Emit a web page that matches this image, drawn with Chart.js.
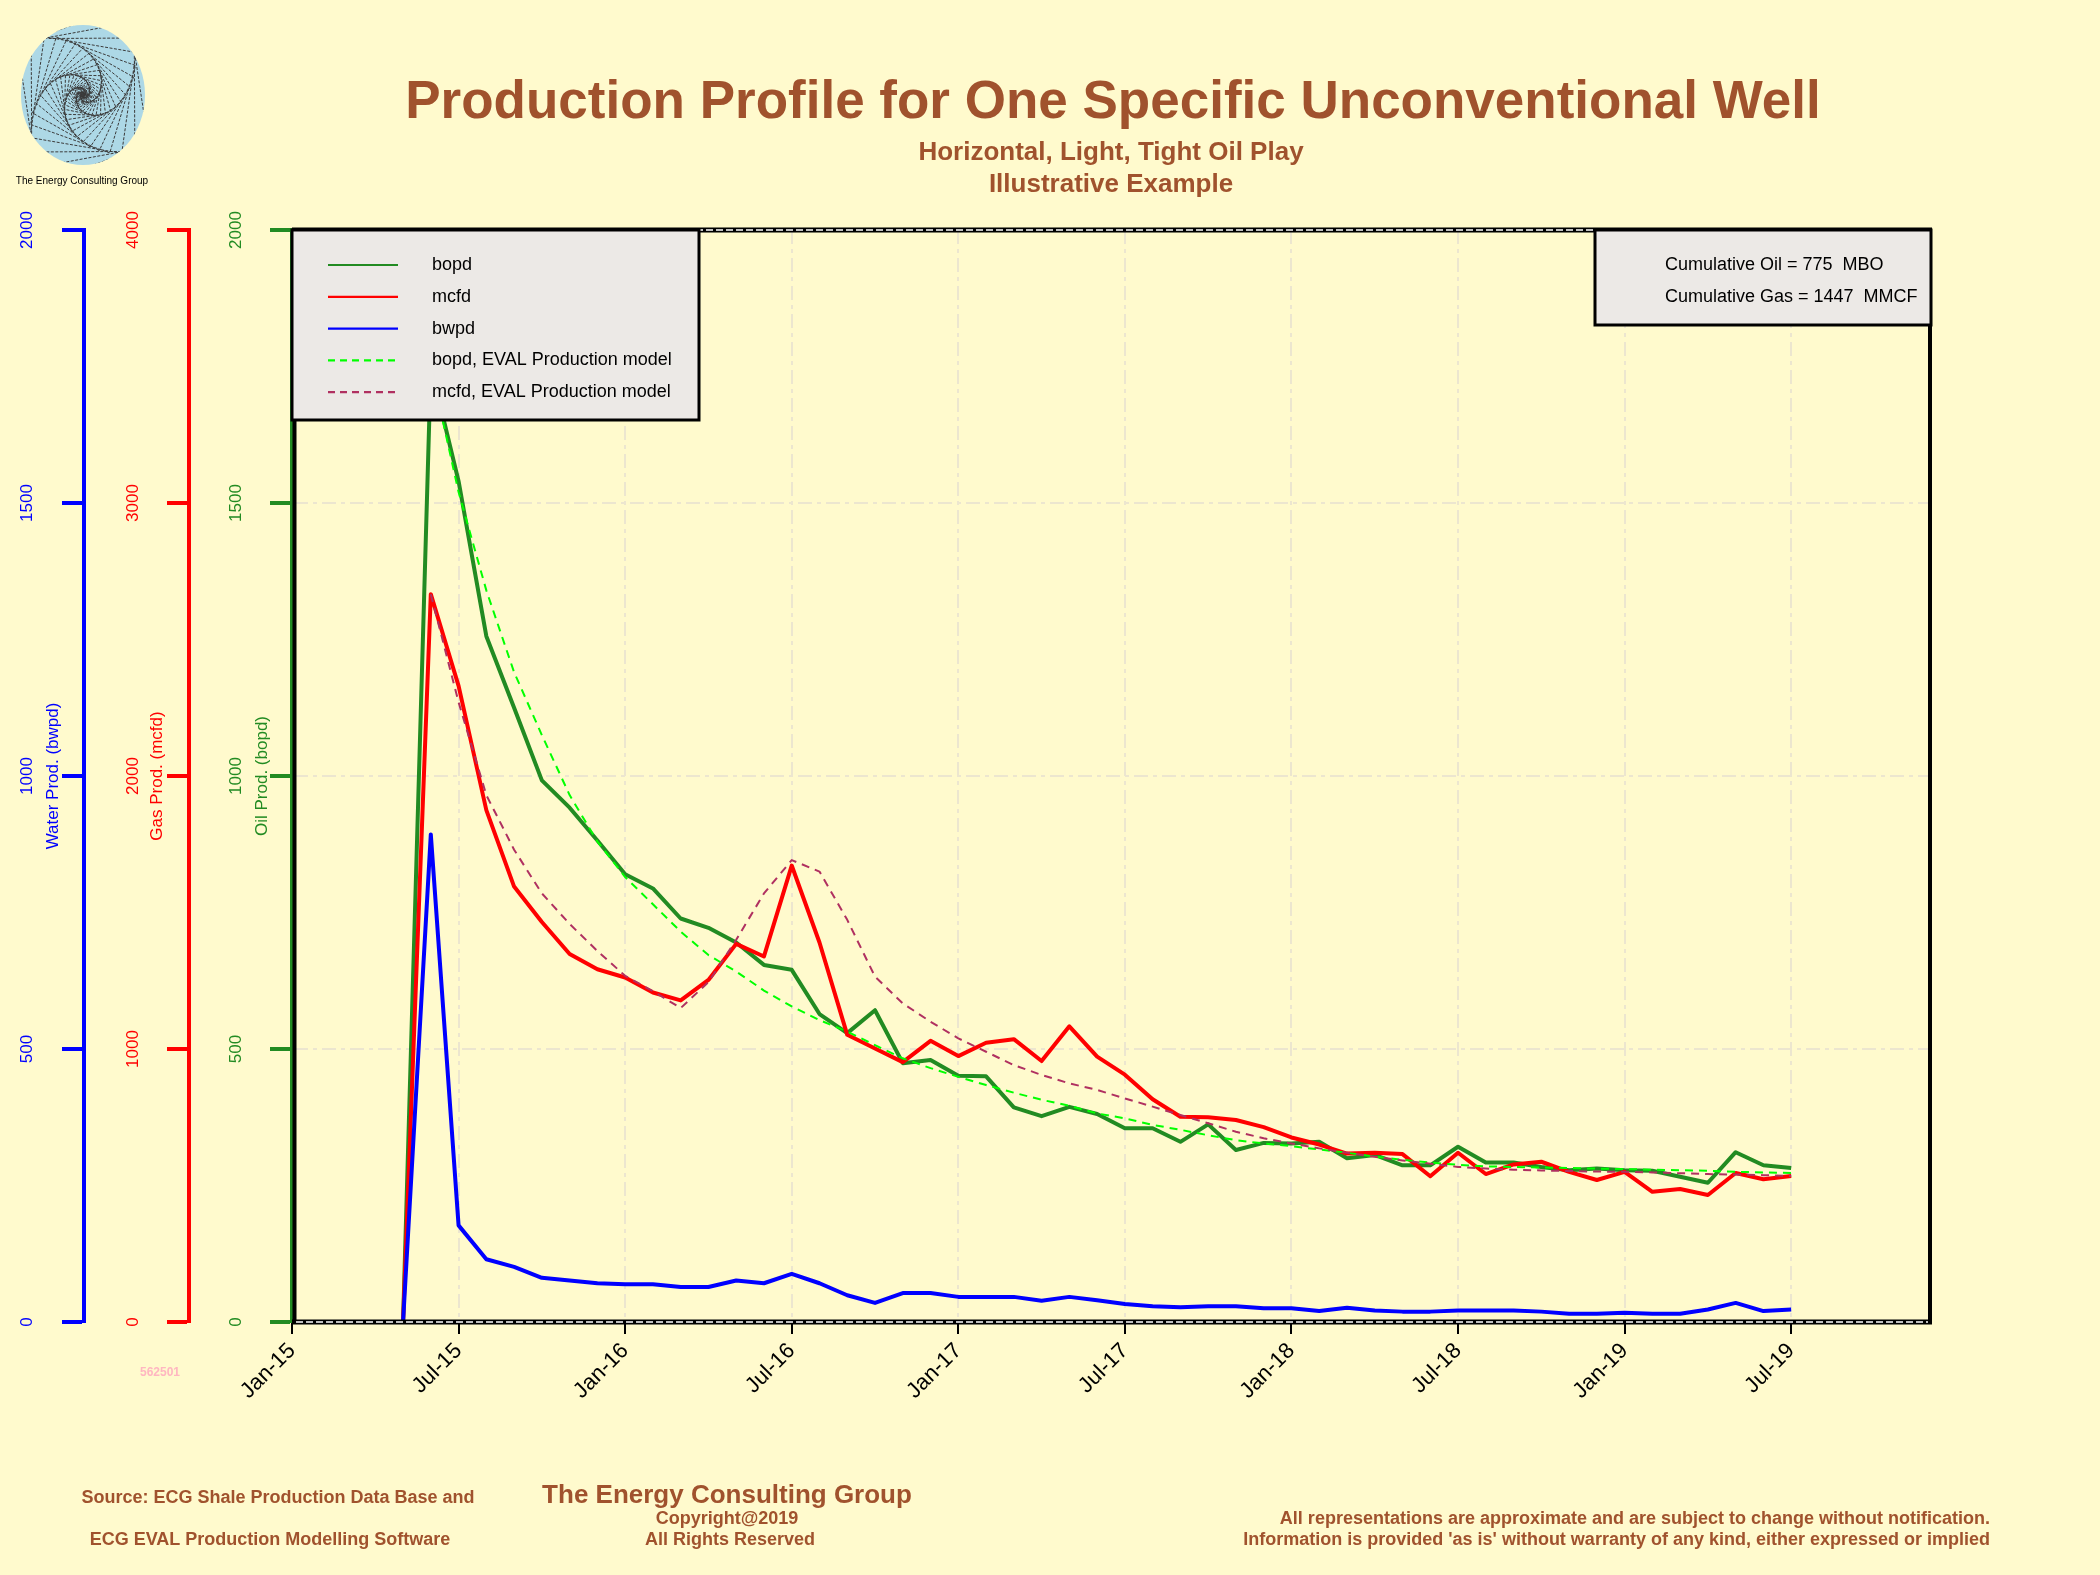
<!DOCTYPE html>
<html>
<head>
<meta charset="utf-8">
<title>Production Profile for One Specific Unconventional Well</title>
<script src="https://cdn.jsdelivr.net/npm/chart.js@4.4.1/dist/chart.umd.min.js"></script>
<style>
  html, body { margin: 0; padding: 0; background: #FFFACD; }
  canvas { display: block; }
</style>
</head>
<body>
<canvas id="wellChart" width="2100" height="1575"></canvas>
<script>
/* ================= DATA ================= */

// month index, 0 = Jan-15
const months = [4, 5, 6, 7, 8, 9, 10, 11, 12, 13, 14, 15, 16, 17, 18, 19, 20, 21, 22, 23, 24,
    25, 26, 27, 28, 29, 30, 31, 32, 33, 34, 35, 36, 37, 38, 39, 40, 41, 42, 43, 44, 45, 46,
    47, 48, 49, 50, 51, 52, 53, 54];

const bopd = [0, 1750, 1540, 1256, 1125, 992, 942, 882, 820, 794, 739, 722, 695, 654, 645, 564,
    529, 571, 474, 480, 451, 450, 393, 377, 394, 381, 355, 355, 330, 362, 315, 328, 327, 330,
    300, 306, 287, 287, 321, 292, 292, 284, 278, 281, 278, 277, 266, 255, 311, 287, 282];

const mcfd = [0, 2666, 2330, 1875, 1595, 1465, 1348, 1292, 1262, 1207, 1178, 1253, 1385, 1339,
    1672, 1390, 1052, 1002, 952, 1030, 974, 1023, 1036, 956, 1083, 972, 906, 816, 752, 750, 740,
    714, 676, 650, 617, 620, 615, 534, 620, 542, 577, 587, 550, 520, 550, 477, 487, 465, 546,
    523, 535];

const bwpd = [0, 893, 177, 115, 101, 81, 76, 71, 69, 69, 64, 64, 76, 71, 88, 71, 49, 35, 53, 53,
    46, 46, 46, 39, 46, 40, 33, 29, 27, 29, 29, 25, 25, 20, 26, 21, 19, 19, 21, 21, 21, 19, 15,
    15, 17, 15, 15, 23, 35, 20, 23];

const modelMonths = [5, 6, 7, 8, 9, 10, 11, 12, 13, 14, 15, 16, 17, 18, 19, 20, 21, 22, 23, 24,
    25, 26, 27, 28, 29, 30, 31, 32, 33, 34, 35, 36, 37, 38, 39, 40, 41, 42, 43, 44, 45, 46, 47,
    48, 49, 50, 51, 52, 53, 54];

const bopdModel = [1750, 1520, 1340, 1190, 1075, 965, 880, 815, 765, 715, 672, 642, 607, 578,
    553, 532, 507, 483, 465, 449, 434, 420, 407, 396, 382, 373, 361, 352, 342, 333, 327, 322,
    316, 310, 303, 297, 292, 288, 285, 284, 283, 282, 281, 280, 279, 278, 277, 275, 274, 273];

const mcfdModel = [2666, 2270, 1930, 1730, 1570, 1458, 1359, 1268, 1212, 1150, 1245, 1400, 1570,
    1692, 1650, 1473, 1265, 1167, 1100, 1039, 990, 941, 905, 874, 850, 819, 789, 758, 728, 697,
    673, 654, 636, 620, 605, 592, 580, 568, 562, 558, 555, 553, 551, 550, 548, 545, 542, 540,
    538, 535];

const xTickLabels = ["Jan-15", "Jul-15", "Jan-16", "Jul-16", "Jan-17", "Jul-17",
    "Jan-18", "Jul-18", "Jan-19", "Jul-19"];

const cumulativeText = ["Cumulative Oil = 775  MBO", "Cumulative Gas = 1447  MMCF"];

/* ================= STYLE ================= */

const FONT = '"Liberation Sans", Arial, Helvetica, sans-serif';
const BG = "#FFFACD";
const BROWN = "#A0522D";
const GRID = "#ECE6CF";
const OIL = "#228B22";
const GAS = "#FF0000";
const WATER = "#0000FF";
const OIL_MODEL = "#00FF00";
const GAS_MODEL = "#B03060";

const toPoints = (xs, ys) => ys.map((v, i) => ({ x: xs[i], y: v }));

/* ================= DRAW HELPERS ================= */

function text(ctx, str, x, y, font, color, align) {
    ctx.font = font;
    ctx.fillStyle = color;
    ctx.textAlign = align || "center";
    ctx.textBaseline = "middle";
    ctx.fillText(str, x, y);
}

function vText(ctx, str, x, y, font, color) {
    ctx.save();
    ctx.translate(x, y);
    ctx.rotate(-Math.PI / 2);
    text(ctx, str, 0, 0, font, color);
    ctx.restore();
}

function hLine(ctx, x1, x2, y, color, width, dash) {
    ctx.save();
    ctx.strokeStyle = color;
    ctx.lineWidth = width;
    ctx.setLineDash(dash || []);
    ctx.beginPath();
    ctx.moveTo(x1, y);
    ctx.lineTo(x2, y);
    ctx.stroke();
    ctx.restore();
}

function drawLogo(ctx) {
    const cx = 83, cy = 95, rx = 62, ry = 70;
    ctx.save();
    ctx.beginPath();
    ctx.ellipse(cx, cy, rx, ry, 0, 0, Math.PI * 2);
    ctx.fillStyle = "#ADD8E6";
    ctx.fill();
    ctx.clip();
    ctx.strokeStyle = "#3c3c3c";
    ctx.lineWidth = 1;
    ctx.setLineDash([3, 1.5]);
    let r = 100, a = 0.3;
    for (let i = 0; i < 45; i++) {
        ctx.beginPath();
        for (let k = 0; k < 4; k++) {
            const ang = a + k * Math.PI / 2;
            const px = cx + r * Math.cos(ang);
            const py = cy + r * Math.sin(ang) * 1.1;
            if (k) ctx.lineTo(px, py); else ctx.moveTo(px, py);
        }
        ctx.closePath();
        ctx.stroke();
        a += 0.16;
        r *= 0.9;
    }
    ctx.restore();
    text(ctx, "The Energy Consulting Group", 82, 181, "10px " + FONT, "#000");
}

/* ================= PLUGINS ================= */

const backgroundPlugin = {
    id: "background",
    beforeDraw(chart) {
        const ctx = chart.ctx;
        ctx.save();
        ctx.fillStyle = BG;
        ctx.fillRect(0, 0, chart.width, chart.height);
        ctx.restore();
    }
};

const decorPlugin = {
    id: "decor",
    afterDraw(chart) {
        const ctx = chart.ctx;
        const a = chart.chartArea;
        const s = chart.scales;

        // plot frame
        ctx.save();
        ctx.strokeStyle = "#000";
        ctx.lineWidth = 4;
        ctx.beginPath();
        ctx.moveTo(a.left + 2.5, a.top);
        ctx.lineTo(a.left + 2.5, a.bottom);
        ctx.moveTo(a.right, a.top - 2);
        ctx.lineTo(a.right, a.bottom + 2);
        ctx.stroke();
        ctx.restore();
        [a.top, a.bottom].forEach(y => {
            hLine(ctx, a.left, a.right + 2, y, "#000", 5);
            hLine(ctx, a.left + 4, a.right - 2, y, "#fff", 1.4, [7, 3]);
        });

        // y axis tick labels and titles
        const axes = [
            { scale: s.yWater, x: 27, tx: 53, color: WATER, title: "Water Prod. (bwpd)" },
            { scale: s.yGas, x: 133, tx: 157, color: GAS, title: "Gas Prod. (mcfd)" },
            { scale: s.yOil, x: 236, tx: 262, color: OIL, title: "Oil Prod. (bopd)" }
        ];
        axes.forEach(ax => {
            ax.scale.ticks.forEach(t => {
                vText(ctx, String(t.value), ax.x, ax.scale.getPixelForValue(t.value),
                    "17px " + FONT, ax.color);
            });
            vText(ctx, ax.title, ax.tx, (ax.scale.top + ax.scale.bottom) / 2,
                "17px " + FONT, ax.color);
        });

        // legend box
        ctx.save();
        ctx.fillStyle = "#ECE9E6";
        ctx.fillRect(292, 230, 407, 190);
        ctx.strokeStyle = "#000";
        ctx.lineWidth = 3;
        ctx.strokeRect(292, 230, 407, 190);
        ctx.restore();
        chart.data.datasets.slice().reverse().forEach((ds, i) => {
            const y = 265 + i * 31.8;
            hLine(ctx, 328, 398, y, ds.borderColor, 2.2, ds.borderDash ? [7, 5] : []);
            text(ctx, ds.label, 432, y, "18px " + FONT, "#000", "left");
        });

        // cumulative box
        ctx.save();
        ctx.fillStyle = "#ECE9E6";
        ctx.fillRect(1595, 230, 336, 95);
        ctx.strokeStyle = "#000";
        ctx.lineWidth = 3;
        ctx.strokeRect(1595, 230, 336, 95);
        ctx.restore();
        cumulativeText.forEach((t, i) => {
            text(ctx, t, 1665, 265 + i * 32, "18px " + FONT, "#000", "left");
        });

        // titles
        const cx = (a.left + a.right) / 2;
        text(ctx, "Production Profile for One Specific Unconventional Well", cx + 2, 103,
            "bold 53px " + FONT, BROWN);
        text(ctx, "Horizontal, Light, Tight Oil Play", cx, 153, "bold 26px " + FONT, BROWN);
        text(ctx, "Illustrative Example", cx, 185, "bold 26px " + FONT, BROWN);

        // footer
        const f = "bold 18px " + FONT;
        text(ctx, "Source: ECG Shale Production Data Base and", 278, 1498, f, BROWN);
        text(ctx, "ECG EVAL Production Modelling Software", 270, 1540, f, BROWN);
        text(ctx, "The Energy Consulting Group", 727, 1496, "bold 26px " + FONT, BROWN);
        text(ctx, "Copyright@2019", 727, 1519, f, BROWN);
        text(ctx, "All Rights Reserved", 730, 1540, f, BROWN);
        text(ctx, "All representations are approximate and are subject to change without notification.",
            1990, 1519, f, BROWN, "right");
        text(ctx, "Information is provided 'as is' without warranty of any kind, either expressed or implied",
            1990, 1540, f, BROWN, "right");

        text(ctx, "562501", 160, 1373, "bold 12px " + FONT, "#FFB6C1");

        drawLogo(ctx);
    }
};

/* ================= CHART ================= */

const yAxis = (color, max, step, weight, width, onArea) => ({
    type: "linear",
    position: "left",
    weight,
    min: 0,
    max,
    afterFit: sc => { sc.width = width; },
    ticks: { stepSize: step, display: false },
    grid: {
        drawOnChartArea: onArea,
        color: GRID,
        lineWidth: 2,
        tickLength: 22,
        tickColor: color,
        tickWidth: 4,
        tickBorderDash: []
    },
    border: { display: true, color, width: 4, dash: [14, 5, 4, 5] }
});

new Chart(document.getElementById("wellChart"), {
    type: "line",
    data: {
        datasets: [
            {
                label: "mcfd, EVAL Production model",
                data: toPoints(modelMonths, mcfdModel),
                borderColor: GAS_MODEL,
                borderWidth: 2,
                borderDash: [8, 6],
                yAxisID: "yGas"
            },
            {
                label: "bopd, EVAL Production model",
                data: toPoints(modelMonths, bopdModel),
                borderColor: OIL_MODEL,
                borderWidth: 2,
                borderDash: [8, 6],
                yAxisID: "yOil"
            },
            {
                label: "bwpd",
                data: toPoints(months, bwpd),
                borderColor: WATER,
                borderWidth: 4,
                yAxisID: "yWater"
            },
            {
                label: "mcfd",
                data: toPoints(months, mcfd),
                borderColor: GAS,
                borderWidth: 4,
                yAxisID: "yGas"
            },
            {
                label: "bopd",
                data: toPoints(months, bopd),
                borderColor: OIL,
                borderWidth: 4,
                yAxisID: "yOil"
            }
        ]
    },
    options: {
        responsive: false,
        animation: false,
        events: [],
        elements: {
            point: { radius: 0 },
            line: { tension: 0, borderJoinStyle: "round", fill: false }
        },
        layout: { padding: { left: 0, top: 230, right: 170, bottom: 0 } },
        plugins: {
            legend: { display: false },
            tooltip: { enabled: false },
            title: { display: false }
        },
        scales: {
            x: {
                type: "linear",
                min: 0,
                max: 59,
                afterFit: sc => { sc.height = 253; },
                ticks: {
                    stepSize: 6,
                    includeBounds: false,
                    autoSkip: false,
                    minRotation: 45,
                    maxRotation: 45,
                    padding: 4,
                    color: "#000",
                    font: { family: FONT, size: 22 },
                    callback: v => xTickLabels[v / 6] || ""
                },
                grid: {
                    color: GRID,
                    lineWidth: 2,
                    tickLength: 12,
                    tickColor: "#000",
                    tickWidth: 2,
                    tickBorderDash: []
                },
                border: { display: false, dash: [14, 5, 4, 5] }
            },
            yOil: yAxis(OIL, 2000, 500, 0, 103, true),
            yGas: yAxis(GAS, 4000, 1000, 1, 105, false),
            yWater: yAxis(WATER, 2000, 500, 2, 84, false)
        }
    },
    plugins: [backgroundPlugin, decorPlugin]
});
</script>
</body>
</html>
